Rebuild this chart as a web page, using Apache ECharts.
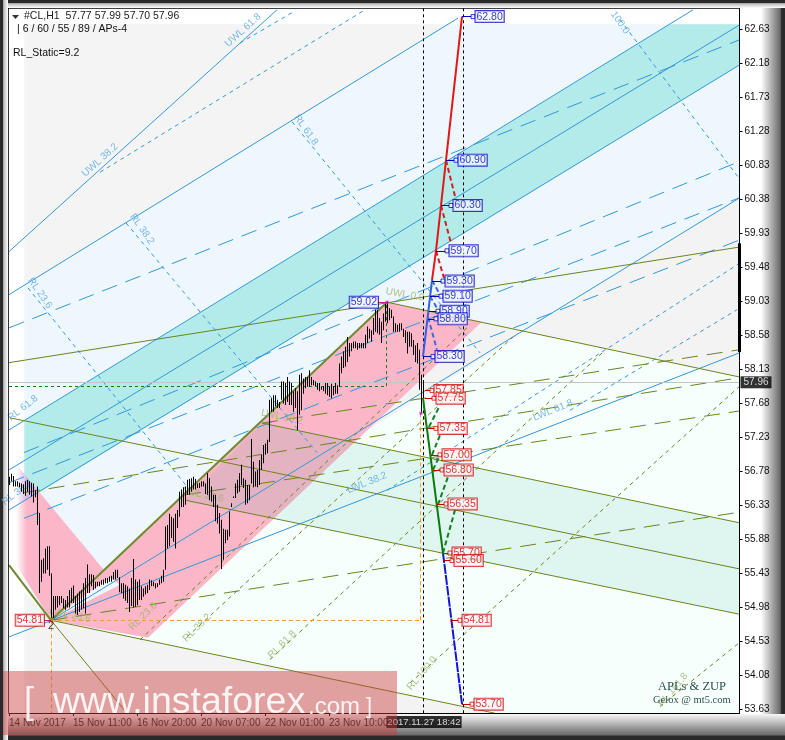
<!DOCTYPE html>
<html>
<head>
<meta charset="utf-8">
<style>html,body{margin:0;padding:0;background:#fff}#main{width:785px;height:740px}</style>
<script src="https://cdn.jsdelivr.net/npm/echarts@6/dist/echarts.min.js"></script>
</head>
<body>
<div id="main"></div>
<script>
// hourly bars, index = bar number on the time axis
var barHigh = [56.71,56.75,56.72,56.65,56.65,56.63,56.62,56.61,56.65,56.67,56.65,56.63,56.62,56.53,56.58,56.23,55.61,55.63,55.76,55.79,55.79,55.43,55.13,55.13,55.13,55.13,55.13,55.10,55.08,55.13,55.21,55.24,55.27,55.13,55.16,55.19,55.21,55.30,55.37,55.55,55.42,55.42,55.41,55.32,55.32,55.32,55.34,55.35,55.37,55.37,55.39,55.40,55.45,55.48,55.48,
55.38,55.30,55.30,55.28,55.26,55.23,55.37,55.62,55.35,55.32,55.35,55.26,55.23,55.26,55.28,55.35,55.34,55.32,55.30,55.30,55.35,55.40,55.48,56.05,56.07,56.22,56.18,56.16,56.22,56.27,56.51,56.54,56.57,56.58,56.67,56.68,56.69,56.71,56.68,56.62,56.63,56.65,56.65,56.62,56.76,56.69,56.58,56.47,56.47,56.34,56.23,56.14,56.02,56.01,56.01,56.25,56.36,56.45,56.62,56.67,56.76,56.87,56.69,56.67,56.60,56.60,57.21,56.91,56.78,56.80,56.93,57.00,57.13,57.15,57.20,
57.73,57.75,57.79,57.79,57.73,57.70,57.97,57.97,57.95,58.03,57.97,57.95,57.84,57.88,57.84,58.06,58.08,58.01,58.03,58.03,58.12,58.03,57.99,57.97,57.95,57.95,57.90,57.91,57.95,57.95,57.90,57.94,57.91,57.95,57.92,58.21,58.30,58.37,58.43,58.56,58.48,58.48,58.50,58.50,58.48,58.48,58.48,58.48,58.59,58.70,58.67,58.65,58.81,58.92,58.92,58.81,58.76,58.87,59.00,59.03,58.94,58.92,58.83,58.74,58.72,58.74,58.74,58.67,58.65,58.63,58.63,58.61,58.52,58.45,58.48,58.39,58.06,57.99];
var barLow = [56.60,56.65,56.58,56.58,56.58,56.57,56.51,56.48,56.46,56.51,56.47,56.45,56.37,56.44,56.07,55.17,55.32,55.43,55.43,55.48,55.40,54.84,54.84,54.95,54.98,55.01,55.04,54.97,54.95,54.98,54.98,55.04,55.04,54.90,54.88,54.92,54.95,54.97,54.90,55.17,55.17,55.26,55.21,55.23,55.26,55.26,55.28,55.28,55.30,55.30,55.32,55.32,55.35,55.35,55.37,
55.18,55.17,55.10,55.07,55.04,54.92,55.00,54.98,54.99,55.01,55.08,55.08,55.12,55.15,55.17,55.21,55.26,55.26,55.23,55.25,55.28,55.30,55.32,55.48,55.76,55.79,55.90,55.85,55.76,56.03,56.18,56.31,56.31,56.34,56.47,56.47,56.51,56.54,56.54,56.56,56.56,56.58,56.58,56.48,56.47,56.40,56.38,56.31,56.12,56.09,55.96,55.49,55.61,55.83,55.87,55.92,56.31,56.43,56.43,56.49,56.51,56.60,56.56,56.34,56.36,56.40,56.62,56.57,56.58,56.57,56.60,56.80,56.89,57.00,57.02,
57.17,57.57,57.57,57.64,57.62,57.62,57.73,57.68,57.66,57.70,57.66,57.66,57.57,57.62,57.33,57.53,57.59,57.81,57.88,57.90,57.90,57.92,57.92,57.91,57.86,57.84,57.86,57.84,57.81,57.79,57.77,57.75,57.79,57.81,57.81,57.90,58.08,58.15,58.17,58.23,58.30,58.37,58.41,58.41,58.39,58.41,58.41,58.41,58.41,58.48,58.54,58.50,58.59,58.63,58.61,58.59,58.48,58.65,58.76,58.74,58.78,58.81,58.63,58.63,58.63,58.63,58.65,58.56,58.48,58.34,58.43,58.43,58.32,58.23,58.21,57.86,57.55,57.70];

var priceTicks = [62.63,62.18,61.73,61.28,60.83,60.38,59.93,59.48,59.03,58.58,58.13,57.68,57.23,56.78,56.33,55.88,55.43,54.98,54.53,54.08,53.63];
var timeTicks = [0,32,64,96,128,160];
var timeLabels = ['14 Nov 2017','15 Nov 11:00','16 Nov 20:00','20 Nov 07:00','22 Nov 01:00','23 Nov 10:00'];

var lastPrice = 57.96;
var cursorTime = '2017.11.27 18:42';

// filled zones, corners as [bar, price]
var zoneUpperGray = [[7.5,62.70],[220.5,62.70],[7.5,59.24]];
var zoneLightBlue = [[7.5,59.24],[220.5,62.70],[365.25,62.70],[365.25,60.40],[258,58.63],[189,59.02],[21,54.81],[7.5,55.28]];
var zoneTeal = [[7.5,57.45],[330.5,62.70],[365.25,62.70],[365.25,62.16],[7.5,56.38]];
var zoneGrayMid = [[258,58.63],[236.5,58.76],[179,57.32]];
var zoneGrayRight = [[365.25,60.40],[365.25,58.03],[258,58.63]];
var zoneGrayLow = [[7.5,55.19],[21,54.81],[243,53.58],[7.5,53.58]];
var zonePink = [[21,54.81],[189,59.02],[236.5,58.76],[69.5,54.58]];
var zonePinkLeft = [[21,54.81],[50.5,55.38],[3.5,56.88],[3.5,55.55]];
var zonePurple = [[3.5,56.88],[14,56.53],[3.5,56.30]];
var zoneWedge = [[21,54.81],[50.5,55.38],[55.5,55.28]];
var zoneGreen = [[126.5,57.42],[365.25,56.10],[365.25,54.89],[88,56.40]];

// channel lines
var blueSolid = [
  [[0,59.69],[134,62.89]],
  [[0,59.12],[224.5,62.78]],
  [[0,57.33],[342,62.89]],
  [[0,56.80],[365.25,62.69]],
  [[0,56.27],[365.25,62.16]],
  [[21,54.81],[365.25,60.40]],
  [[0,54.59],[365.25,58.35]]
];
var blueLongDash = [
  [[0,58.68],[365,62.49]],
  [[7.5,57.03],[365,60.88]],
  [[0,56.63],[365,60.40]],
  [[7.5,56.16],[365,59.84]]
];
var blueFineDash = [
  [[45.5,60.74],[178,62.89]],
  [[115.5,62.45],[142,62.86]],
  [[189,56.53],[365,59.53]],
  [[280.5,57.59],[364,58.92]],
  [[9.5,59.21],[90.5,56.53]],
  [[58.5,60.07],[154,57.03]],
  [[141.5,61.41],[235.5,58.35]],
  [[305.5,62.76],[365,60.66]]
];
var oliveThin = [
  [[0,58.22],[365.25,59.75]],
  [[189,59.02],[365.25,58.03]],
  [[0.5,57.49],[365.25,55.49]],
  [[126.5,57.42],[365.25,56.10]],
  [[88,56.40],[365.25,54.89]],
  [[21,54.81],[243,53.58]],
  [[21,54.81],[59,53.58]]
];
var oliveThick = [
  [[21,54.81],[189,59.02]],
  [[0,55.54],[21,54.81]]
];
var oliveLongDash = [
  [[21,54.81],[365,56.24]],
  [[7.5,56.50],[365,58.02]],
  [[126.5,57.42],[365,58.39]],
  [[88,56.47],[365,57.58]]
];
var oliveFineDash = [
  [[65.5,54.55],[230.5,58.72]],
  [[89,54.59],[252,58.56]],
  [[130.5,54.29],[297,58.36]],
  [[200.5,53.98],[365,57.90]],
  [[325.5,53.67],[365,54.51]]
];
var orangeDash = [
  [[21,54.81],[205.5,54.81]],
  [[21,54.81],[21,53.58]],
  [[205.5,54.81],[205.5,57.55]]
];
var greenDash = [
  [[0,57.91],[188.5,57.91]],
  [[188.5,57.91],[188.5,59.02]]
];
var cursorLines = [
  [[207,62.91],[207,53.58]],
  [[227,62.91],[227,53.58]]
];
var scaleBar = [[[365.25,59.80],[365.25,58.36]]];

// projected waves
var waveBlueUp = [[[207,58.30],[211.5,59.31]]];
var waveRedUp = [[[211.5,59.31],[213.5,59.70]],[[213.5,59.70],[216,60.30]],[[216,60.30],[218.5,60.90]],[[218.5,60.90],[226.5,62.80]]];
var waveGreenDown = [[[207,57.75],[217,55.70]]];
var waveBlueDown = [[[217,55.70],[226.5,53.70]]];
var retraceRed = [[[218.5,60.90],[223.5,60.37]],[[216,60.30],[221,59.80]],[[213.5,59.70],[217.5,59.34]]];
var retraceBlue = [[[211.5,59.31],[215.5,59.12]],[[210.5,59.10],[214.5,58.92]],[[209.5,58.82],[214,58.39]]];
var retraceGreen = [[[210,57.37],[215,57.63]],[[211.5,57.00],[215.5,57.26]],[[212,56.80],[215.5,57.00]],[[214.5,56.34],[219.5,56.71]],[[217,55.70],[223,56.27]]];

// level tags: value, bar where the stub starts, bar of the tag
var upLevels = [62.80,60.90,60.30,59.70,59.30,59.10,58.90,58.80,58.30];
var upFrom = [226.5,218.5,216,213.5,211.5,210.5,210,209.5,207];
var upTag = [232,223.5,221,219,217,216,214.5,213.5,212];
var downLevels = [57.85,57.75,57.35,57.00,56.80,56.35,55.70,55.60,54.81,53.70];
var downFrom = [208,208,209.5,211,212,214,217,217.5,221,226.5];
var downTag = [211.5,212.5,213.5,215.5,216.5,218.5,220.5,221.5,225.5,231.5];

var pivotLow = [21,54.81];
var pivotHigh = [189,59.02];
var marks = [[189,59.02],[206,57.55]];

// rotated line names
var blueNames = ['UWL 38.2','UWL 61.8','RL 23.6','RL 38.2','RL 61.8','100.0','LWL 38.2','LWL 61.8','RL 61.8','RL 38.2'];
var blueNameAt = [[45.5,60.90],[117,62.62],[15.5,59.14],[66.5,59.99],[148.5,61.30],[305.5,62.72],[179,56.63],[272,57.59],[7,57.62],[4,56.50]];
var blueNameAngle = [42,42,-55,-55,-55,-55,22,22,38,38];
var oliveNames = ['UWL 0.0','RL 23.6','RL 38.2','RL 61.8','RL 100.0','RL 161.8','LWL 23.6','LWL 23.6','LWL 38.2'];
var oliveNameAt = [[198,59.12],[67,54.86],[94,54.71],[136.5,54.49],[206.5,54.11],[332,53.89],[30.5,54.88],[97,56.47],[136.5,57.50]];
var oliveNameAngle = [-10,45,45,45,50,50,-12,-12,-12];

var FONT = '"Liberation Sans", sans-serif';
var myChart = echarts.init(document.getElementById('main'));

function zones(polys, colors) {
  return {
    type: 'custom', z: 1, silent: true, clip: true,
    data: polys.map(function (p, k) { return [k]; }),
    renderItem: function (params, api) {
      var k = params.dataIndex;
      return {
        type: 'polygon',
        shape: { points: polys[k].map(function (c) { return api.coord(c); }) },
        style: { fill: colors[k] }
      };
    }
  };
}
function segs(list, color, width, dash, z, clip) {
  return {
    type: 'lines', coordinateSystem: 'cartesian2d', polyline: false, silent: true,
    z: z || 2, clip: clip !== false,
    lineStyle: { color: color, width: width, type: dash || 'solid', opacity: 1 },
    data: list.map(function (s) { return { coords: s }; })
  };
}
function stubs(levels, from, tag) {
  return levels.map(function (v, k) { return [[from[k], v], [tag[k], v]]; });
}
function tags(levels, tag, color, bg) {
  return {
    type: 'scatter', z: 8, symbol: 'rect', symbolSize: 4, silent: true, clip: false,
    itemStyle: { color: '#fff', borderColor: color, borderWidth: 1 },
    label: {
      show: true, position: 'right', distance: 0, color: color,
      fontFamily: FONT, fontSize: 10.5, lineHeight: 10, 
      backgroundColor: bg, borderColor: color, borderWidth: 1, padding: [1, 1, 0, 1],
      formatter: function (p) { return p.value[1].toFixed(2); }
    },
    data: levels.map(function (v, k) { return [tag[k], v]; })
  };
}
function names(txt, at, angle, color) {
  return {
    type: 'scatter', z: 3, symbolSize: 0, silent: true, clip: false,
    data: txt.map(function (t, k) {
      return {
        value: at[k],
        label: {
          show: true, position: 'inside', formatter: t, rotate: angle[k],
          color: color, fontFamily: FONT, fontSize: 10
        }
      };
    })
  };
}

var options = {
  animation: false,
  backgroundColor: '#ffffff',
  grid: { left: 9, right: 45.5, top: 8.3, bottom: 27, show: false },
  xAxis: {
    type: 'value', min: 0, max: 365.25, z: 5,
    axisLine: { show: true, onZero: false, lineStyle: { color: '#000' } },
    axisTick: { show: true, length: 3, customValues: timeTicks, lineStyle: { color: '#000' } },
    axisLabel: {
      customValues: timeTicks, align: 'left', margin: 5, color: '#222', fontFamily: FONT, fontSize: 10,
      formatter: function (v) { return timeLabels[v / 32]; }
    },
    splitLine: { show: false }
  },
  yAxis: {
    type: 'value', position: 'right', min: 53.583, max: 62.91, z: 5,
    axisLine: { show: true, onZero: false, lineStyle: { color: '#000' } },
    axisTick: { show: true, length: 3, customValues: priceTicks, lineStyle: { color: '#000' } },
    axisLabel: {
      customValues: priceTicks, margin: 5, color: '#111', fontFamily: FONT, fontSize: 10,
      formatter: function (v) { return v.toFixed(2); }
    },
    splitLine: { show: false }
  },
  graphic: { elements: [
    // window frame
    { type: 'rect', z: 0, silent: true, shape: { x: 761, y: 0, width: 24, height: 740 },
      style: { fill: new echarts.graphic.LinearGradient(0, 0, 1, 0, [{ offset: 0, color: '#ffffff' }, { offset: 0.8, color: '#6a6a6a' }, { offset: 0.86, color: '#2a2a2a' }, { offset: 1, color: '#2a2a2a' }]) } },
    { type: 'rect', z: 0, silent: true, shape: { x: 0, y: 714, width: 785, height: 26 },
      style: { fill: new echarts.graphic.LinearGradient(0, 0, 0, 1, [{ offset: 0, color: '#f8f8f8' }, { offset: 0.8, color: '#6a6a6a' }, { offset: 0.86, color: '#2a2a2a' }, { offset: 1, color: '#2a2a2a' }]) } },
    { type: 'rect', z: 0, silent: true, shape: { x: 0, y: 0, width: 785, height: 8 },
      style: { fill: new echarts.graphic.LinearGradient(0, 0, 0, 1, [{ offset: 0, color: '#2a2a2a' }, { offset: 0.35, color: '#2a2a2a' }, { offset: 0.45, color: '#bbbbbb' }, { offset: 1, color: '#ffffff' }]) } },
    { type: 'rect', z: 0, silent: true, shape: { x: 0, y: 0, width: 8, height: 740 },
      style: { fill: new echarts.graphic.LinearGradient(0, 0, 1, 0, [{ offset: 0, color: '#2a2a2a' }, { offset: 0.35, color: '#2a2a2a' }, { offset: 0.45, color: '#bbbbbb' }, { offset: 1, color: '#ffffff' }]) } },
    { type: 'rect', z: 6, silent: true, shape: { x: 8, y: 8, width: 0.8, height: 705 }, style: { fill: '#000' } },
    { type: 'rect', z: 6, silent: true, shape: { x: 8, y: 8, width: 731.5, height: 0.8 }, style: { fill: '#000' } },
    // soft left edge over the zones
    { type: 'rect', z: 1.5, silent: true, shape: { x: 9, y: 9, width: 18, height: 704 },
      style: { fill: new echarts.graphic.LinearGradient(0, 0, 1, 0, [{ offset: 0, color: 'rgba(255,255,255,1)' }, { offset: 0.4, color: 'rgba(255,255,255,1)' }, { offset: 1, color: 'rgba(255,255,255,0)' }]) } },
    // chart header
    { type: 'polygon', z: 50, silent: true, shape: { points: [[12, 15], [19, 15], [15.5, 19]] }, style: { fill: '#333' } },
    { type: 'text', z: 50, silent: true, x: 24, y: 11, style: { text: '#CL,H1  57.77 57.99 57.70 57.96', fill: '#222', font: '10.5px ' + FONT } },
    { type: 'text', z: 50, silent: true, x: 17, y: 24, style: { text: '| 6 / 60 / 55 / 89 / APs-4', fill: '#111', font: '10.5px ' + FONT } },
    { type: 'text', z: 50, silent: true, x: 13, y: 48, style: { text: 'RL_Static=9.2', fill: '#111', font: '10.5px ' + FONT } },
    { type: 'text', z: 50, silent: true, x: 658, y: 680, style: { text: 'APLs & ZUP', fill: '#2f4f4f', font: '12.5px "Liberation Serif", serif' } },
    { type: 'text', z: 50, silent: true, x: 653, y: 695, style: { text: 'Gelox @ mt5.com', fill: '#2f4f4f', font: '10.5px "Liberation Serif", serif' } },
    // banner
    { type: 'rect', z: 100, silent: true, shape: { x: 3, y: 671, width: 394, height: 64 }, style: { fill: 'rgba(205,60,60,0.45)' } },
    { type: 'text', z: 101, silent: true, x: 24, y: 685, style: { text: '[', fill: 'rgba(255,255,255,0.85)', font: '36px ' + FONT } },
    { type: 'text', z: 101, silent: true, x: 53, y: 684, style: { text: 'www.instaforex', fill: 'rgba(255,255,255,0.88)', font: '37.5px ' + FONT } },
    { type: 'text', z: 101, silent: true, x: 308, y: 695, style: { text: '.com', fill: 'rgba(255,255,255,0.88)', font: '24px ' + FONT } },
    { type: 'text', z: 101, silent: true, x: 366, y: 696, style: { text: ']', fill: 'rgba(255,255,255,0.85)', font: '22px ' + FONT } }
  ] },
  series: [
    zones(
      [[[7.5,62.70],[365.25,62.70],[365.25,53.583],[7.5,53.583]], zoneUpperGray, zoneLightBlue, zoneTeal, zoneGrayMid, zoneGrayRight, zoneGrayLow, zonePink, zonePinkLeft, zonePurple, zoneWedge, zoneGreen],
      ['#f6fffb', '#f4f4f4', '#eef7fd', '#b2ebe9', '#f3f3f3', '#f3f3f3', '#f3f3f3', '#fbb6c8', '#fbb6c8', '#d8b6e4', '#eef7fd', 'rgba(0,160,130,0.09)']
    ),
    segs(blueSolid, '#3298d8', 1),
    segs(blueLongDash, '#3298d8', 1, [16, 9]),
    segs(blueFineDash, '#3298d8', 1, [4, 4]),
    segs(oliveThin, '#6b8420', 1),
    segs(oliveLongDash, '#6b8420', 1, [16, 9]),
    segs(oliveFineDash, '#6b8420', 1, [4, 4]),
    segs(oliveThick, '#6f8a2e', 2, 'solid', 3),
    segs([[[0, lastPrice], [365.25, lastPrice]]], '#c4c4c4', 1),
    segs(orangeDash, '#f0a030', 1, [4, 3]),
    segs(greenDash, '#1a7a1a', 1, [3, 3]),
    names(blueNames, blueNameAt, blueNameAngle, '#5aa7e0'),
    names(oliveNames, oliveNameAt, oliveNameAngle, '#9db36a'),
    {
      type: 'custom', z: 4, silent: true, clip: true,
      data: barHigh.map(function (h, k) { return [k, barLow[k], h]; }),
      encode: { x: 0, y: [1, 2] },
      renderItem: function (params, api) {
        var top = api.coord([api.value(0), api.value(2)]);
        var bot = api.coord([api.value(0), api.value(1)]);
        return { type: 'rect', shape: { x: Math.round(top[0]), y: top[1], width: 1, height: bot[1] - top[1] }, style: { fill: '#000' } };
      }
    },
    segs(cursorLines, '#000', 1, [3, 3], 5),
    segs(scaleBar, '#000', 3, 'solid', 6, false),
    segs(waveBlueUp, '#3060e8', 2, 'solid', 6),
    segs(waveRedUp, '#e01818', 2, 'solid', 6),
    segs(waveGreenDown, '#0a7a0a', 2, 'solid', 6),
    segs(waveBlueDown, '#1414d8', 2, [10, 1], 6),
    segs(retraceRed, '#d02020', 2, [5, 3], 6),
    segs(retraceBlue, '#4468e0', 2, [5, 3], 6),
    segs(retraceGreen, '#0f7f1f', 2, [5, 3], 6),
    segs(stubs(upLevels, upFrom, upTag), '#0000c0', 1, 'solid', 7),
    segs(stubs(downLevels, downFrom, downTag), '#c00000', 1, 'solid', 7),
    tags(upLevels, upTag, '#0808c0', 'rgba(240,248,255,0.95)'),
    tags(downLevels, downTag, '#d00808', 'rgba(255,246,246,0.95)'),
    segs([[[17.5, pivotLow[1]], pivotLow], [[184.5, pivotHigh[1]], pivotHigh]], '#c02080', 1, 'solid', 7),
    {
      type: 'scatter', z: 8, symbolSize: 0, silent: true, clip: false,
      label: { show: true, position: 'left', distance: 0, fontFamily: FONT, fontSize: 10.5, lineHeight: 10, borderWidth: 1, padding: [1, 1, 0, 1] },
      data: [
        { value: [17.5, pivotLow[1]], label: { color: '#d00808', borderColor: '#d00808', backgroundColor: 'rgba(255,246,246,0.95)', formatter: '54.81' } },
        { value: [184.5, pivotHigh[1]], label: { color: '#0808c0', borderColor: '#0808c0', backgroundColor: 'rgba(240,248,255,0.95)', formatter: '59.02' } }
      ]
    },
    {
      type: 'scatter', z: 8, symbolSize: 0, silent: true, clip: false,
      label: { show: true, position: 'bottom', distance: 0, color: '#000', fontFamily: FONT, fontSize: 11, formatter: '2' },
      data: [pivotLow]
    },
    {
      type: 'scatter', z: 8, symbol: 'rect', symbolSize: 3, silent: true, itemStyle: { color: '#d020c0' },
      data: marks
    },
    {
      type: 'scatter', z: 9, symbolSize: 0, silent: true, clip: false,
      label: { show: true, position: 'right', distance: 1, color: '#fff', backgroundColor: '#000', fontFamily: FONT, fontSize: 10, padding: [1, 3, 1, 3], formatter: lastPrice.toFixed(2) },
      data: [[365.25, lastPrice]]
    },
    {
      type: 'scatter', z: 9, symbolSize: 0, silent: true, clip: false,
      label: { show: true, position: 'bottom', distance: 3, color: '#fff', backgroundColor: '#000', fontFamily: FONT, fontSize: 9.5, padding: [1, 1, 1, 1], formatter: cursorTime },
      data: [[207.5, 53.583]]
    }
  ]
};
myChart.setOption(options);
</script>
</body>
</html>
